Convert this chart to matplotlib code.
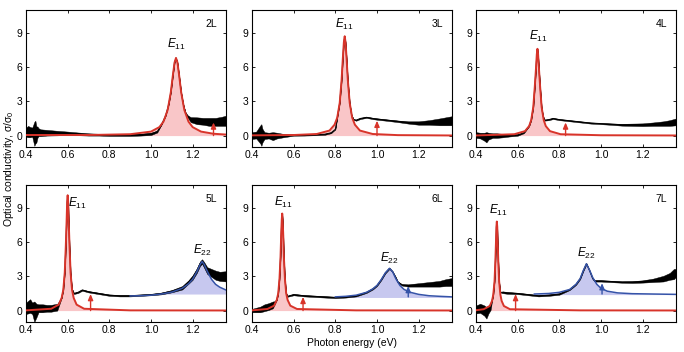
import matplotlib
matplotlib.use("Agg")
import matplotlib.pyplot as plt

plt.rcParams['font.family'] = ['Liberation Sans', 'DejaVu Sans']
plt.rcParams['mathtext.fontset'] = 'custom'
plt.rcParams['mathtext.rm'] = 'Liberation Sans'
plt.rcParams['mathtext.it'] = 'Liberation Sans:italic'

RED = '#d8342a'
PINK = '#f9c6c8'
BLUE = '#3553a8'
LBLUE = '#c7c8ef'

# ---------------- data ----------------
layers = ['2L', '3L', '4L', '5L', '6L', '7L']

# measured spectra: energy, mean sigma, noise half-width
energy_2L = [0.40,0.41,0.42,0.43,0.44,0.445,0.45,0.455,0.46,0.47,0.50,0.55,0.60,0.65,0.70,0.75,0.80,0.85,0.90,0.95,1.00,1.03,1.05,1.07,1.085,1.095,1.105,1.113,1.12,1.127,1.135,1.145,1.155,1.165,1.175,1.19,1.22,1.25,1.28,1.31,1.34,1.36]
sigma_2L = [0.3,0.35,0.3,0.3,0.15,0.3,0.1,0.3,0.3,0.25,0.25,0.22,0.2,0.15,0.1,0.08,0.05,0.05,0.05,0.08,0.15,0.35,0.95,1.73,2.75,3.78,5.28,6.4,6.8,6.4,5.28,3.78,2.75,2.05,1.7,1.4,1.3,1.25,1.2,1.2,1.25,1.3]
noise_2L = [0.4,0.5,0.45,0.4,1.05,1.0,0.7,0.5,0.35,0.3,0.25,0.2,0.15,0.12,0.1,0.08,0.08,0.08,0.08,0.08,0.1,0.08,0.0,0.0,0.0,0.0,0.0,0.0,0.0,0.0,0.0,0.0,0.0,0.03,0.1,0.22,0.3,0.3,0.35,0.35,0.4,0.45]

energy_3L = [0.40,0.42,0.44,0.445,0.45,0.46,0.48,0.50,0.52,0.55,0.60,0.65,0.70,0.75,0.78,0.80,0.809,0.821,0.830,0.836,0.841,0.845,0.849,0.854,0.860,0.869,0.878,0.888,0.90,0.92,0.95,0.98,1.00,1.05,1.10,1.15,1.20,1.25,1.30,1.33,1.36]
sigma_3L = [0.0,0.05,0.1,0.05,0.0,0.0,0.0,-0.05,0.0,0.0,0.05,0.05,0.08,0.12,0.25,0.55,1.56,2.86,4.84,6.76,8.18,8.7,8.18,6.76,4.84,2.86,1.8,1.4,1.35,1.5,1.6,1.5,1.45,1.35,1.25,1.15,1.1,1.15,1.2,1.25,1.3]
noise_3L = [0.3,0.3,0.8,0.95,0.6,0.3,0.25,0.35,0.25,0.15,0.06,0.05,0.05,0.05,0.04,0.0,0.0,0.0,0.0,0.0,0.0,0.0,0.0,0.0,0.0,0.0,0.0,0.03,0.05,0.05,0.05,0.06,0.06,0.06,0.07,0.1,0.15,0.2,0.3,0.35,0.4]

energy_4L = [0.40,0.42,0.44,0.45,0.46,0.48,0.50,0.53,0.56,0.60,0.63,0.655,0.665,0.675,0.682,0.688,0.692,0.695,0.698,0.702,0.708,0.715,0.722,0.73,0.75,0.77,0.80,0.85,0.90,0.95,1.00,1.05,1.10,1.15,1.20,1.25,1.30,1.33,1.36]
sigma_4L = [0.05,0.0,-0.1,-0.15,-0.05,0.0,0.0,0.0,0.02,0.05,0.25,0.83,1.36,2.50,4.23,5.91,7.14,7.6,7.14,5.91,4.23,2.50,1.7,1.35,1.4,1.5,1.4,1.3,1.2,1.1,1.05,1.0,0.95,0.95,0.95,1.0,1.05,1.1,1.2]
noise_4L = [0.25,0.25,0.35,0.45,0.3,0.2,0.2,0.15,0.1,0.06,0.04,0.0,0.0,0.0,0.0,0.0,0.0,0.0,0.0,0.0,0.0,0.0,0.0,0.04,0.05,0.05,0.05,0.05,0.05,0.05,0.05,0.06,0.08,0.1,0.12,0.15,0.2,0.25,0.3]

energy_5L = [0.40,0.42,0.43,0.44,0.45,0.46,0.48,0.50,0.52,0.55,0.571,0.579,0.586,0.591,0.595,0.5975,0.60,0.6025,0.605,0.609,0.614,0.621,0.63,0.65,0.67,0.70,0.75,0.80,0.85,0.90,0.95,1.00,1.05,1.10,1.15,1.18,1.20,1.22,1.235,1.245,1.255,1.27,1.29,1.31,1.33,1.36]
sigma_5L = [0.2,0.4,0.2,-0.1,0.0,0.2,0.2,0.2,0.2,0.3,1.1,1.81,3.32,5.62,7.85,9.49,10.1,9.49,7.85,5.62,3.32,1.9,1.5,1.6,1.8,1.65,1.5,1.35,1.3,1.3,1.35,1.4,1.5,1.7,2.0,2.5,2.9,3.5,4.1,4.3,4.0,3.5,3.3,3.1,3.0,3.0]
noise_5L = [0.5,0.6,0.5,0.9,0.6,0.35,0.35,0.3,0.3,0.3,0.0,0.0,0.0,0.0,0.0,0.0,0.0,0.0,0.0,0.0,0.0,0.0,0.05,0.06,0.06,0.06,0.06,0.06,0.06,0.06,0.06,0.06,0.08,0.1,0.15,0.15,0.2,0.2,0.2,0.2,0.25,0.3,0.35,0.4,0.4,0.45]

energy_6L = [0.40,0.42,0.44,0.46,0.48,0.50,0.51,0.519,0.526,0.532,0.537,0.540,0.543,0.545,0.547,0.550,0.553,0.558,0.564,0.57,0.58,0.60,0.65,0.70,0.75,0.80,0.85,0.90,0.95,0.98,1.00,1.02,1.04,1.06,1.075,1.09,1.10,1.12,1.15,1.20,1.25,1.30,1.33,1.36]
sigma_6L = [0.0,0.05,0.1,0.25,0.35,0.5,0.7,0.93,1.52,2.80,4.73,6.60,7.99,8.5,7.99,6.60,4.73,2.80,1.55,1.25,1.3,1.4,1.3,1.25,1.2,1.15,1.2,1.3,1.6,1.9,2.2,2.7,3.3,3.7,3.4,2.9,2.5,2.25,2.2,2.25,2.3,2.35,2.45,2.5]
noise_6L = [0.15,0.2,0.25,0.3,0.3,0.3,0.12,0.0,0.0,0.0,0.0,0.0,0.0,0.0,0.0,0.0,0.0,0.0,0.0,0.04,0.05,0.06,0.06,0.06,0.06,0.06,0.06,0.06,0.05,0.05,0.05,0.05,0.05,0.05,0.05,0.05,0.06,0.06,0.1,0.15,0.2,0.25,0.3,0.35]

energy_7L = [0.40,0.42,0.44,0.45,0.46,0.47,0.477,0.483,0.489,0.493,0.496,0.498,0.50,0.502,0.504,0.507,0.511,0.517,0.523,0.53,0.55,0.60,0.65,0.70,0.75,0.80,0.85,0.88,0.90,0.915,0.93,0.945,0.96,0.97,1.00,1.05,1.10,1.15,1.20,1.25,1.30,1.33,1.35,1.36]
sigma_7L = [0.1,0.2,0.0,-0.2,0.1,0.3,0.85,1.40,2.57,4.34,6.06,7.33,7.8,7.33,6.06,4.34,2.57,1.6,1.6,1.6,1.55,1.5,1.4,1.3,1.35,1.45,1.85,2.3,2.8,3.5,4.1,3.5,2.8,2.6,2.6,2.55,2.5,2.5,2.55,2.65,2.8,3.0,3.2,3.3]
noise_7L = [0.35,0.4,0.45,0.5,0.35,0.25,0.0,0.0,0.0,0.0,0.0,0.0,0.0,0.0,0.0,0.0,0.0,0.0,0.06,0.08,0.08,0.06,0.06,0.06,0.06,0.06,0.05,0.05,0.05,0.05,0.05,0.05,0.05,0.06,0.06,0.06,0.06,0.08,0.1,0.15,0.25,0.3,0.45,0.35]

# E11 fits (red)
e11_x_2L = [0.40,0.70,0.90,1.00,1.04,1.06,1.08,1.095,1.105,1.113,1.12,1.127,1.135,1.145,1.16,1.18,1.20,1.24,1.30,1.36]
e11_y_2L = [0.05,0.05,0.12,0.35,0.74,1.22,2.24,3.78,5.28,6.4,6.8,6.4,5.28,3.78,2.24,1.22,0.74,0.35,0.16,0.09]
e11_x_3L = [0.40,0.60,0.711,0.772,0.796,0.809,0.821,0.830,0.836,0.841,0.845,0.849,0.854,0.860,0.869,0.881,0.894,0.918,0.979,1.10,1.36]
e11_y_3L = [0.02,0.05,0.14,0.44,0.95,1.56,2.86,4.84,6.76,8.18,8.7,8.18,6.76,4.84,2.86,1.56,0.95,0.44,0.14,0.04,0.01]
e11_x_4L = [0.40,0.584,0.635,0.655,0.665,0.675,0.682,0.688,0.692,0.695,0.698,0.702,0.708,0.715,0.725,0.735,0.755,0.806,1.00,1.36]
e11_y_4L = [0.01,0.12,0.39,0.83,1.36,2.50,4.23,5.91,7.14,7.6,7.14,5.91,4.23,2.50,1.36,0.83,0.39,0.12,0.03,0.01]
e11_x_5L = [0.40,0.521,0.557,0.571,0.579,0.586,0.591,0.595,0.5975,0.60,0.6025,0.605,0.609,0.614,0.621,0.629,0.643,0.679,0.90,1.36]
e11_y_5L = [0.02,0.16,0.52,1.10,1.81,3.32,5.62,7.85,9.49,10.1,9.49,7.85,5.62,3.32,1.81,1.10,0.52,0.16,0.02,0.01]
e11_x_6L = [0.40,0.474,0.506,0.519,0.526,0.532,0.537,0.540,0.543,0.545,0.547,0.550,0.553,0.558,0.564,0.571,0.584,0.616,0.90,1.36]
e11_y_6L = [0.02,0.14,0.43,0.93,1.52,2.80,4.73,6.60,7.99,8.5,7.99,6.60,4.73,2.80,1.52,0.93,0.43,0.14,0.02,0.01]
e11_x_7L = [0.40,0.437,0.466,0.477,0.483,0.489,0.493,0.496,0.498,0.50,0.502,0.504,0.507,0.511,0.517,0.523,0.534,0.563,0.90,1.36]
e11_y_7L = [0.03,0.12,0.40,0.85,1.40,2.57,4.34,6.06,7.33,7.8,7.33,6.06,4.34,2.57,1.40,0.85,0.40,0.12,0.02,0.01]

# E22 fits (blue) and their fill baselines
e22_x_5L = [0.90,0.95,1.00,1.05,1.10,1.15,1.18,1.20,1.22,1.235,1.245,1.255,1.27,1.29,1.31,1.33,1.36]
e22_y_5L = [1.28,1.30,1.35,1.45,1.62,1.95,2.35,2.75,3.4,4.0,4.3,4.05,3.45,2.75,2.3,2.05,1.8]
e22_x_6L = [0.80,0.85,0.90,0.95,0.98,1.00,1.02,1.04,1.06,1.075,1.09,1.11,1.13,1.16,1.20,1.25,1.30,1.36]
e22_y_6L = [1.2,1.25,1.35,1.6,1.9,2.2,2.7,3.3,3.7,3.4,2.8,2.2,1.85,1.6,1.42,1.3,1.25,1.2]
e22_x_7L = [0.68,0.75,0.80,0.85,0.88,0.90,0.915,0.93,0.945,0.96,0.98,1.00,1.03,1.08,1.15,1.25,1.36]
e22_y_7L = [1.45,1.5,1.6,1.85,2.3,2.8,3.5,4.1,3.55,2.9,2.3,1.95,1.7,1.55,1.48,1.45,1.42]
e22_base = {'5L': 1.45, '6L': 1.15, '7L': 1.4}

# onset arrows: (x, y_start, y_end)
red_arrows = {'2L': (1.30, 0.0, 1.15), '3L': (1.00, 0.0, 1.3), '4L': (0.83, 0.0, 1.15),
              '5L': (0.71, 0.0, 1.45), '6L': (0.645, 0.0, 1.2), '7L': (0.59, 0.0, 1.45)}
blue_arrows = {'6L': (1.15, 1.2, 2.15), '7L': (1.005, 1.45, 2.4)}

# peak labels: (x, y)
e11_label = {'2L': (1.12, 7.95), '3L': (0.845, 9.7), '4L': (0.70, 8.7),
             '5L': (0.645, 9.4), '6L': (0.551, 9.5), '7L': (0.507, 8.8)}
e22_label = {'5L': (1.248, 5.3), '6L': (1.061, 4.6), '7L': (0.93, 5.0)}

xticks = [0.4, 0.6, 0.8, 1.0, 1.2]
xticklabels = ['0.4', '0.6', '0.8', '1.0', '1.2']
yticks = [0, 3, 6, 9]

spectra = {'2L': (energy_2L, sigma_2L, noise_2L), '3L': (energy_3L, sigma_3L, noise_3L),
           '4L': (energy_4L, sigma_4L, noise_4L), '5L': (energy_5L, sigma_5L, noise_5L),
           '6L': (energy_6L, sigma_6L, noise_6L), '7L': (energy_7L, sigma_7L, noise_7L)}
e11 = {'2L': (e11_x_2L, e11_y_2L), '3L': (e11_x_3L, e11_y_3L), '4L': (e11_x_4L, e11_y_4L),
       '5L': (e11_x_5L, e11_y_5L), '6L': (e11_x_6L, e11_y_6L), '7L': (e11_x_7L, e11_y_7L)}
e22 = {'5L': (e22_x_5L, e22_y_5L), '6L': (e22_x_6L, e22_y_6L), '7L': (e22_x_7L, e22_y_7L)}

# ---------------- figure ----------------
W, H = 684, 352
fig = plt.figure(figsize=(W / 100, H / 100), dpi=100)
lefts = [26, 252, 476]
tops = [10, 185]
aw, ah = 200, 137

for i, lay in enumerate(layers):
    r, c = divmod(i, 3)
    ax = fig.add_axes([lefts[c] / W, 1 - (tops[r] + ah) / H, aw / W, ah / H])
    ax.set_xlim(0.4, 1.36)
    ax.set_ylim(-1, 11)

    fx, fy = e11[lay]
    ax.fill_between(fx, 0, fy, color=PINK, lw=0, zorder=1)
    if lay in e22:
        bx, by = e22[lay]
        base = e22_base[lay]
        ax.fill_between(bx, base, by, where=[v >= base for v in by], interpolate=True,
                        color=LBLUE, lw=0, zorder=1)

    ex, ey, en = spectra[lay]
    lo = [a - b for a, b in zip(ey, en)]
    hi = [a + b for a, b in zip(ey, en)]
    ax.fill_between(ex, lo, hi, color='black', lw=0.3, zorder=2)
    ax.plot(ex, ey, color='black', lw=0.7, zorder=2)

    ax.plot(fx, fy, color=RED, lw=1.4, zorder=3)
    if lay in e22:
        ax.plot(bx, by, color=BLUE, lw=1.1, zorder=3)

    xa, y0, y1 = red_arrows[lay]
    ax.annotate('', xy=(xa, y1), xytext=(xa, y0),
                arrowprops=dict(arrowstyle='-|>,head_length=0.35,head_width=0.15',
                                color=RED, lw=1.0, shrinkA=0, shrinkB=0), zorder=4)
    if lay in blue_arrows:
        xa, y0, y1 = blue_arrows[lay]
        ax.annotate('', xy=(xa, y1), xytext=(xa, y0),
                    arrowprops=dict(arrowstyle='-|>,head_length=0.35,head_width=0.15',
                                    color=BLUE, lw=1.0, shrinkA=0, shrinkB=0), zorder=4)

    lx, ly = e11_label[lay]
    ax.text(lx, ly, r'$E_{\mathrm{11}}$', ha='center', va='center', fontsize=8.5)
    if lay in e22_label:
        lx, ly = e22_label[lay]
        ax.text(lx, ly, r'$E_{22}$', ha='center', va='center', fontsize=8.5)

    ax.text(0.955, 0.90, lay, transform=ax.transAxes, ha='right', va='center', fontsize=7.5)

    ax.set_xticks(xticks)
    ax.set_xticklabels(xticklabels)
    ax.set_yticks(yticks)
    ax.tick_params(direction='in', top=True, right=True, length=2.5, width=0.6,
                   labelsize=7.5, pad=2.5)
    for s in ax.spines.values():
        s.set_linewidth(0.8)

fig.text(0.514, 1 - 343 / H, 'Photon energy (eV)', ha='center', va='center', fontsize=7.5)
fig.text(0.013, 0.52, 'Optical conductivity, σ/σ$_0$', rotation=90, ha='center', va='center',
         fontsize=7.5)

fig.savefig('out.png', dpi=100)
